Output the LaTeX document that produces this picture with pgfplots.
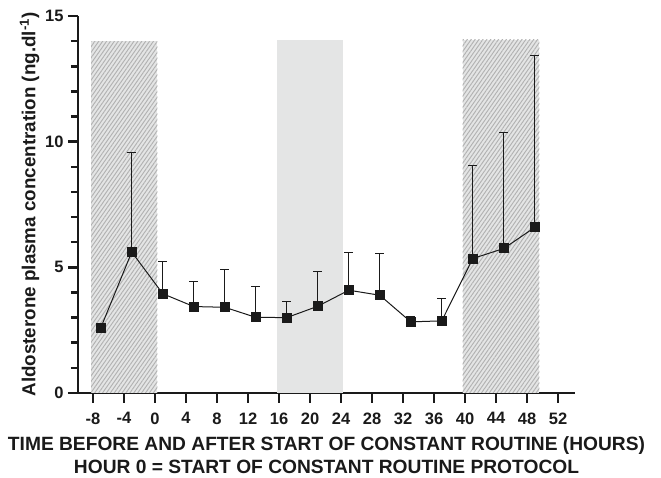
\documentclass[border=0pt]{standalone}
\usepackage{pgfplots}
\pgfplotsset{compat=1.18}
\usepackage{fontspec}
\setmainfont{Liberation Sans}
\usetikzlibrary{patterns.meta}
\definecolor{shade}{HTML}{E4E5E5}
\definecolor{hatchline}{HTML}{B2B2B2}
\definecolor{ink}{HTML}{1A1A1A}
\begin{document}
\begin{tikzpicture}
\path[use as bounding box] (-78pt,-85pt) rectangle (583pt,393pt);
\begin{axis}[
  scale only axis,
  width=497pt, height=377pt,
  xmin=-9.935, xmax=54.19,
  ymin=0, ymax=15,
  axis lines=left,
  axis line style={line width=2.5pt, ink, -},
  xtick={-8,-4,...,52},
  ytick={0,5,10,15},
  minor ytick={1,2,3,4,6,7,8,9,11,12,13,14},
  tick align=outside,
  major tick length=10pt,
  minor tick length=7pt,
  tick style={line width=2.5pt, ink},
  /pgf/number format/assume math mode=true,
  tick label style={font=\bfseries\fontsize{16.5}{19}\selectfont, text=ink},
  xticklabel style={yshift=-6pt},
  yticklabel style={xshift=-1pt},
  xlabel={TIME BEFORE AND AFTER START OF CONSTANT ROUTINE (HOURS)\\HOUR 0 = START OF CONSTANT ROUTINE PROTOCOL},
  xlabel style={align=center, font=\bfseries\fontsize{19.2}{23.5}\selectfont, text=ink, yshift=-5pt},
  ylabel={Aldosterone plasma concentration (ng.dl\textsuperscript{-1})},
  ylabel style={font=\bfseries\fontsize{18.8}{21}\selectfont, text=ink, yshift=-1pt},
  clip=false,
]
% shaded periods
\addplot[draw=none, fill=shade] coordinates {(-8.25,14) (0.3,14)} \closedcycle;
\addplot[draw=none, pattern={Lines[angle=55, distance=3.2pt, line width=0.95pt]}, pattern color=hatchline] coordinates {(-8.25,14) (0.3,14)} \closedcycle;
\addplot[draw=none, fill=shade] coordinates {(15.7,14.05) (24.2,14.05)} \closedcycle;
\addplot[draw=none, fill=shade] coordinates {(39.7,14.05) (49.6,14.05)} \closedcycle;
\addplot[draw=none, pattern={Lines[angle=55, distance=3.2pt, line width=0.95pt]}, pattern color=hatchline] coordinates {(39.7,14.05) (49.6,14.05)} \closedcycle;
% data
\addplot[ink, line width=1pt, mark=square*, mark size=4.5pt, mark options={fill=ink, draw=ink},
  error bars/.cd, y dir=plus, y explicit,
  error mark=-,
  error bar style={line width=1pt, ink},
  error mark options={rotate=90, line width=1pt, mark size=4.5pt, ink}]
  coordinates {
  (-7,2.59) +- (0,0)
  (-3,5.61) +- (0,3.96)
  (1,3.95) +- (0,1.30)
  (5,3.44) +- (0,1.00)
  (9,3.41) +- (0,1.52)
  (13,3.01) +- (0,1.22)
  (17,3.00) +- (0,0.63)
  (21,3.45) +- (0,1.38)
  (25,4.09) +- (0,1.50)
  (29,3.89) +- (0,1.68)
  (33,2.83) +- (0,0.22)
  (37,2.87) +- (0,0.88)
  (41,5.35) +- (0,3.70)
  (45,5.75) +- (0,4.61)
  (49,6.59) +- (0,6.84)
  };
\end{axis}
\end{tikzpicture}
\end{document}
